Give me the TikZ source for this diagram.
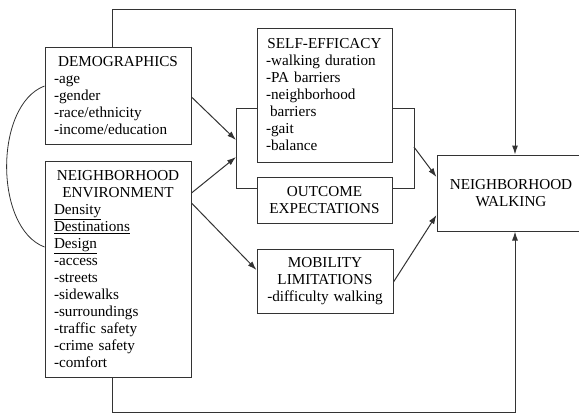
\documentclass[tikz,border=0pt]{standalone}
\usepackage{fontspec}
\setmainfont{Liberation Serif}
\usetikzlibrary{arrows.meta}
\setlength{\parindent}{0pt}
\begin{document}
\begin{tikzpicture}[x=1pt,y=-1pt,
  line width=1pt,
  box/.style={draw=black!80, line width=1pt, rectangle, inner xsep=9pt, inner ysep=2pt,
    font=\fontsize{15.2}{17}\selectfont, text=black},
  lnk/.style={draw=black!80},
  arr/.style={lnk, -{Latex[length=9pt,width=6pt]}}]
\useasboundingbox (0,0) rectangle (579,416);

\node[box, text width=128pt, minimum height=97pt] (demo) at (118,95.5)
  {{\centering DEMOGRAPHICS\par}-age\par-gender\par-race/ethnicity\par-income/education};
\node[box, text width=128pt, minimum height=216pt] (ne) at (118,269)
  {{\centering NEIGHBORHOOD\par ENVIRONMENT\par}\underline{Density}\par\underline{Destinations}\par\underline{Design}\par-access\par-streets\par-sidewalks\par-surroundings\par-traffic safety\par-crime safety\par-comfort};
\node[box, text width=117pt, minimum height=134pt] (se) at (324.5,95)
  {{\centering SELF-EFFICACY\par}-walking duration\par-PA barriers\par-neighborhood\par\hspace{4pt}barriers\par-gait\par-balance};
\node[box, text width=117pt, minimum height=46pt, align=center] (oe) at (324.5,200)
  {OUTCOME\\EXPECTATIONS};
\node[box, text width=118pt, minimum height=64pt, align=center] (mob) at (325,281)
  {MOBILITY\\LIMITATIONS\\-difficulty walking};
\node[box, text width=130pt, minimum height=76pt, align=center] (nw) at (511,193)
  {NEIGHBORHOOD\\WALKING};

% brackets
\coordinate (bl1) at (236,108);
\coordinate (bl2) at (236,188);
\coordinate (br1) at (414,108);
\coordinate (br2) at (414,188);
\draw[lnk] (se.west |- bl1) -- (bl1) -- (bl2) -- (oe.west |- bl2);
\draw[lnk] (se.east |- br1) -- (br1) -- (br2) -- (oe.east |- br2);

% arrows into the left bracket
\coordinate (la1) at (236,140);
\coordinate (la2) at (236,157);
\draw[arr] (demo.east |- 0,97) -- (la1);
\draw[arr] (ne.east |- 0,193) -- (la2);
\draw[arr] (ne.east |- 0,203) -- (mob.west |- 0,270);

% arrows into neighborhood walking
\coordinate (ra) at (414,147);
\draw[arr] (ra) -- (nw.west |- 0,177);
\draw[arr] (mob.east |- 0,282) -- (nw.west |- 0,215);

% top and bottom loops
\draw[arr] (demo.north -| 112,0) -- (112,9) -| (nw.north -| 515,0);
\draw[arr] (ne.south -| 112,0) -- (112,412) -| (nw.south -| 515,0);

% correlation curve
\draw[lnk, line width=0.8pt] (demo.west |- 0,86) .. controls (-6,105) and (-6,228) .. (ne.west |- 0,247);
\end{tikzpicture}
\end{document}
